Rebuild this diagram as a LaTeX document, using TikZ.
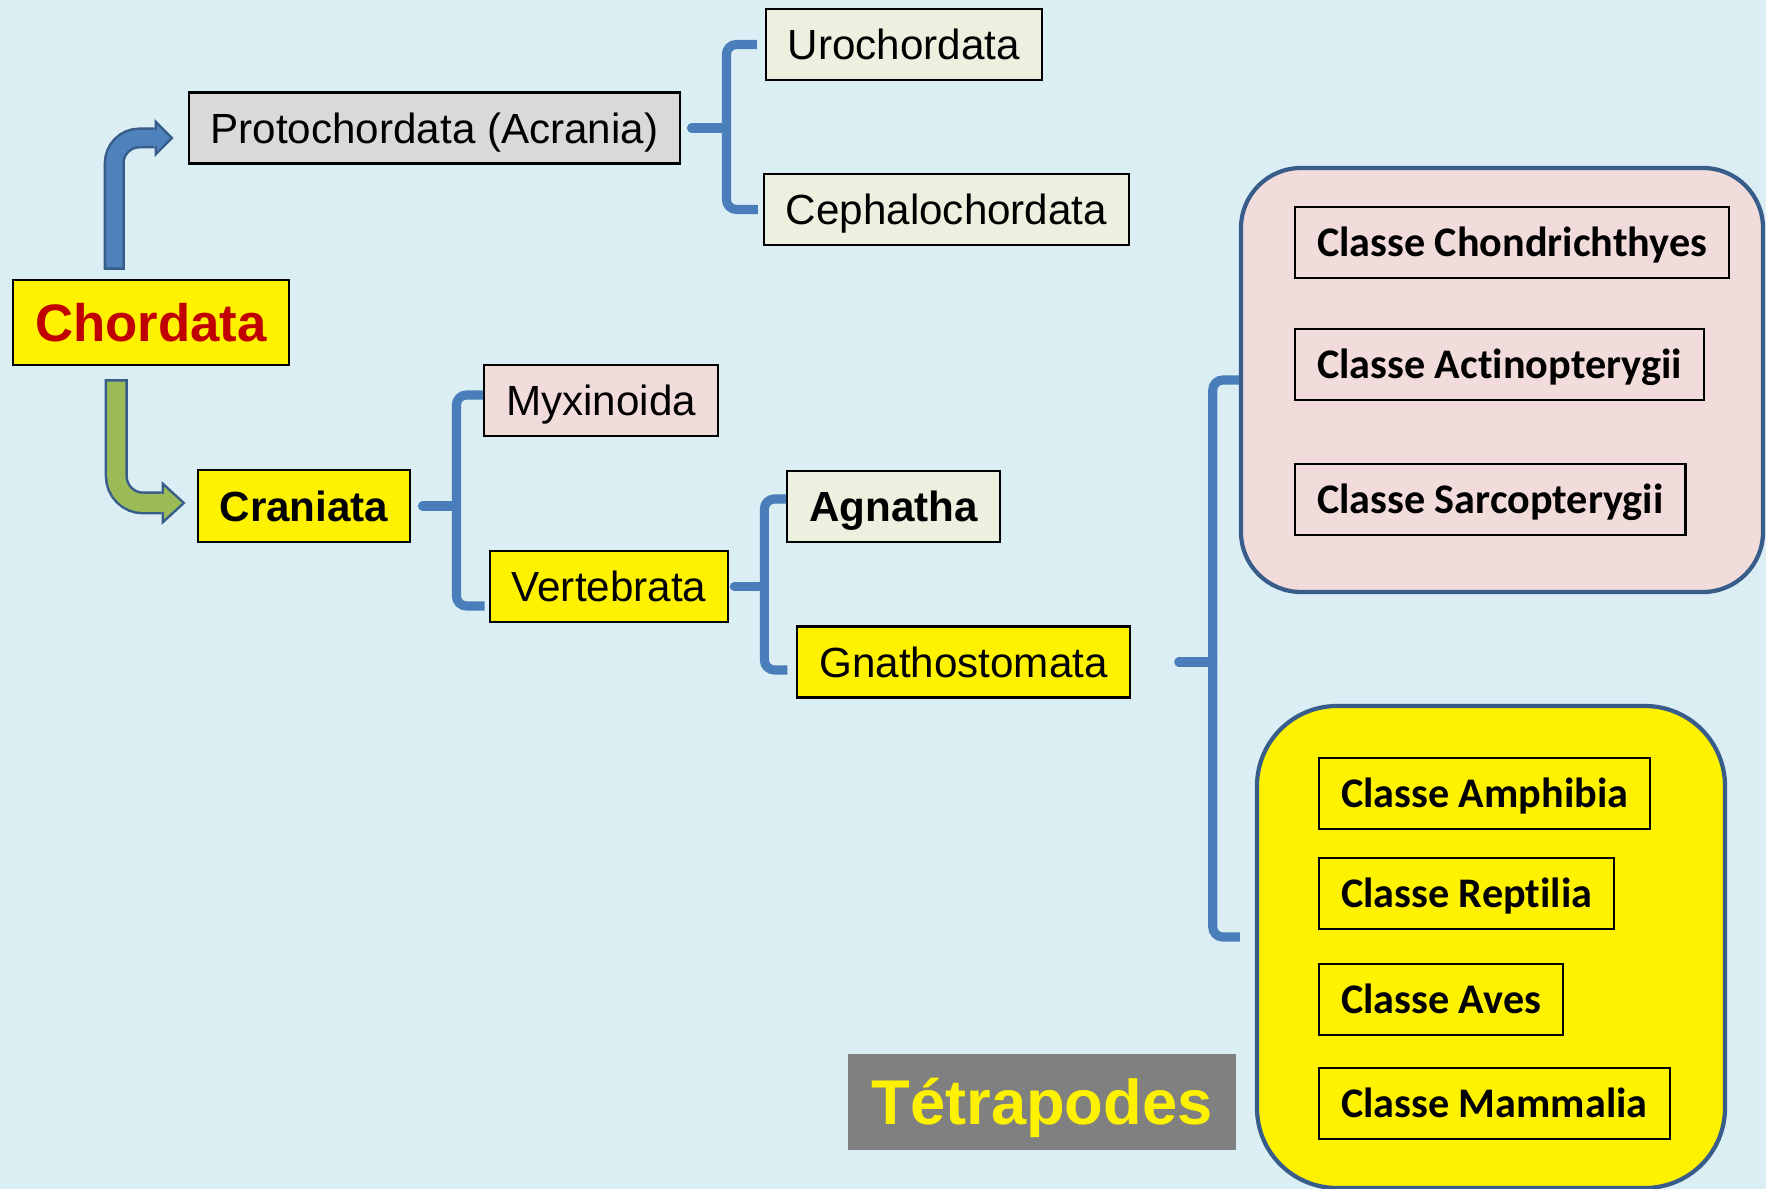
\documentclass[tikz,border=0pt]{standalone}
\usepackage{fontspec}
\setmainfont{Liberation Sans}
\newfontfamily\calibri[Ligatures=NoCommon]{Carlito}
\usepackage{tikz}
\usetikzlibrary{arrows.meta, positioning, calc}
\definecolor{bgcolor}{RGB}{219,238,244}
\definecolor{bracecolor}{RGB}{74,126,187}
\definecolor{rimcolor}{RGB}{56,93,138}
\definecolor{bluearrowcolor}{RGB}{79,129,189}
\definecolor{greenarrowcolor}{RGB}{155,187,89}
\definecolor{chordatared}{RGB}{192,0,0}
\definecolor{greycolor}{RGB}{217,217,217}
\definecolor{olivecolor}{RGB}{235,241,222}
\definecolor{pinkcolor}{RGB}{242,220,219}
\definecolor{tetracolor}{RGB}{128,128,128}

\begin{document}
\begin{tikzpicture}[
    taxon/.style={draw, line width=0.6pt, inner xsep=2.2mm, inner ysep=0pt, minimum height=0.71cm, text height=8.6pt, text depth=0pt, font=\fontsize{12}{14}\selectfont},
    classe/.style={taxon, anchor=west, text height=7.9pt, font=\calibri\bfseries\fontsize{12}{14}\selectfont},
    group/.style={draw=rimcolor, line width=1.2pt, inner sep=0pt},
    brace/.style={draw=bracecolor, line width=2.6pt, rounded corners=1mm},
    rim/.style={rimcolor, rounded corners=#1},
    core/.style={rounded corners=#1, shorten <=0.25mm}
]
    \useasboundingbox (0,0) rectangle (17.66,11.89);
    \clip (0,0) rectangle (17.66,11.89);
    \fill[bgcolor] (0,0) rectangle (17.66,11.89);

    % Taxa
    \node[taxon, fill=yellow, minimum height=0.85cm, text height=10.7pt, text=chordatared, font=\bfseries\fontsize{15}{18}\selectfont] (chordata) at (1.51,8.665) {Chordata};
    \node[taxon, fill=greycolor] (protochordata) at (4.345,10.61) {Protochordata (Acrania)};
    \node[taxon, fill=olivecolor] (urochordata) at (9.04,11.445) {Urochordata};
    \node[taxon, fill=olivecolor] (cephalochordata) at (9.465,9.795) {Cephalochordata};
    \node[taxon, fill=yellow, minimum height=0.72cm, font=\bfseries\fontsize{12}{14}\selectfont] (craniata) at (3.04,6.83) {Craniata};
    \node[taxon, fill=pinkcolor] (myxinoida) at (6.01,7.885) {Myxinoida};
    \node[taxon, fill=yellow] (vertebrata) at (6.09,6.025) {Vertebrata};
    \node[taxon, fill=olivecolor, font=\bfseries\fontsize{12}{14}\selectfont] (agnatha) at (8.935,6.825) {Agnatha};
    \node[taxon, fill=yellow] (gnathostomata) at (9.635,5.27) {Gnathostomata};

    % Groups of classes
    \node[group, fill=pinkcolor, rounded corners=0.6cm, minimum width=5.22cm, minimum height=4.24cm] (fishes) at (15.02,8.09) {};
    \node[group, fill=yellow, rounded corners=0.8cm, minimum width=4.68cm, minimum height=4.82cm] (tetrapods) at (14.91,2.42) {};

    \node[classe] (chondrichthyes) at (12.94,9.465) {Classe Chondrichthyes};
    \node[classe] (actinopterygii) at (12.94,8.245) {Classe Actinopterygii};
    \node[classe] (sarcopterygii) at (12.94,6.895) {Classe Sarcopterygii};
    \node[classe] (amphibia) at (13.18,3.955) {Classe Amphibia};
    \node[classe] (reptilia) at (13.18,2.955) {Classe Reptilia};
    \node[classe] (aves) at (13.18,1.895) {Classe Aves};
    \node[classe] (mammalia) at (13.18,0.855) {Classe Mammalia};

    \node[fill=tetracolor, text=yellow, font=\bfseries\fontsize{18}{22}\selectfont, text height=12.9pt, text depth=0pt, minimum width=3.88cm, minimum height=0.96cm] (tetralabel) at (10.42,0.87) {Tétrapodes};

    % Braces
    \coordinate (b1) at ([xshift=4.5mm]protochordata.east);
    \draw[brace, line cap=round] ([xshift=1mm]protochordata.east) -- (b1);
    \draw[brace] ([xshift=-0.8mm]urochordata.west) -| (b1) |- ([xshift=-0.5mm]cephalochordata.west);

    \coordinate (b2) at ([xshift=4.5mm]craniata.east);
    \draw[brace, line cap=round] ([xshift=1.1mm]craniata.east) -- (b2);
    \draw[brace] ([yshift=0.55mm]myxinoida.west) -| (b2) |- ([xshift=-0.4mm, yshift=-1.95mm]vertebrata.west);

    \coordinate (b3) at ([xshift=3.5mm]vertebrata.east);
    \draw[brace, line cap=round] ([xshift=0.5mm]vertebrata.east) -- (b3);
    \draw[brace] ([yshift=0.75mm]agnatha.west) -| (b3) |- ([xshift=-0.9mm, yshift=-0.8mm]gnathostomata.west);

    \coordinate (b4) at ([xshift=8.2mm]gnathostomata.east);
    \draw[brace, line cap=round] ([xshift=4.8mm]gnathostomata.east) -- (b4);
    \draw[brace] (fishes.west) -| (b4) |- ([xshift=-1.5mm, yshift=1mm]tetrapods.west);

    % Bent arrows out of Chordata
    \coordinate (upfoot) at ([xshift=10.2mm, yshift=0.9mm]chordata.north west);
    \coordinate (downfoot) at ([xshift=10.4mm, yshift=-1.3mm]chordata.south west);
    \draw[rim=2.5mm, line width=2.1mm, -{Triangle[length=1.9mm, width=3.8mm, line width=0pt]}, shorten >=1.4mm] (upfoot) |- ([yshift=-1mm]protochordata.west);
    \draw[core=2.5mm, bluearrowcolor, line width=1.6mm, -{Triangle[length=1.3mm, width=2.6mm, line width=0pt]}, shorten >=1.75mm] (upfoot) |- ([yshift=-1mm]protochordata.west);
    \draw[rim=2.7mm, line width=2.3mm, -{Triangle[length=2.4mm, width=4.4mm, line width=0pt]}, shorten >=1.1mm] (downfoot) |- ([yshift=0.3mm]craniata.west);
    \draw[core=2.7mm, greenarrowcolor, line width=1.8mm, -{Triangle[length=1.78mm, width=3.26mm, line width=0pt]}, shorten >=1.47mm] (downfoot) |- ([yshift=0.3mm]craniata.west);
\end{tikzpicture}
\end{document}
